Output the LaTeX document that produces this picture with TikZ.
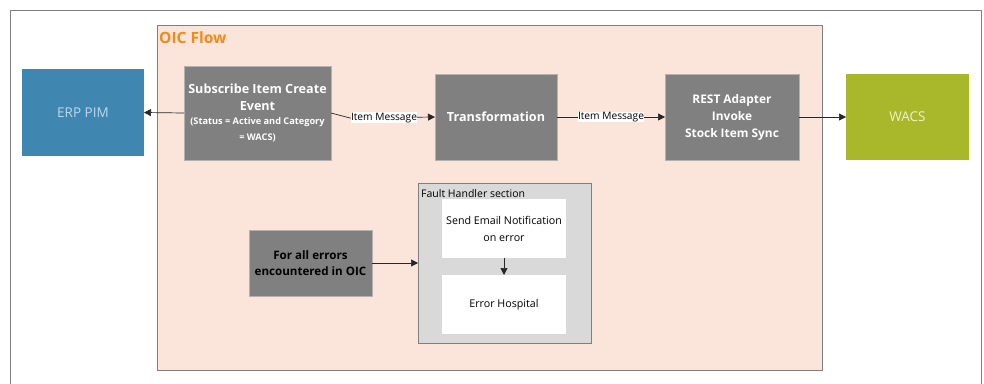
\documentclass[tikz,border=0pt]{standalone}
\usepackage{fontspec}
\setmainfont{Open Sans}
\usetikzlibrary{arrows.meta,positioning}
\definecolor{oicfill}{HTML}{FBE4D9}
\definecolor{framegray}{HTML}{7F7F7F}
\definecolor{boxgray}{HTML}{808080}
\definecolor{faultfill}{HTML}{D9D9D9}
\definecolor{erpblue}{HTML}{3F87B1}
\definecolor{erptext}{HTML}{BCD8EA}
\definecolor{wacsgreen}{HTML}{A9B82A}
\definecolor{wacstext}{HTML}{EEF2C8}
\definecolor{oicorange}{HTML}{F28A1A}
\tikzset{
  base/.style={inner sep=0pt, outer sep=0pt, align=center},
  graybox/.style={base, fill=boxgray, draw=black!30, line width=0.6pt, text=white, font=\bfseries\fontsize{12.6}{16.5}\selectfont},
  sysbox/.style={base, font=\fontsize{13.5}{15}\selectfont},
  whitebox/.style={base, fill=white, font=\fontsize{10.7}{17}\selectfont},
  conn/.style={draw=black!85, line width=0.7pt, -{Triangle[length=7pt,width=7pt]}},
  lbl/.style={fill=white, inner sep=0.5pt, font=\fontsize{10.2}{11}\selectfont}
}
\begin{document}
\begin{tikzpicture}[x=1pt,y=-1pt]
\useasboundingbox (0,0) rectangle (984,383);
\fill[white] (0,0) rectangle (984,383);
\draw[framegray, line width=0.8pt] (10,395) -- (10,10) -- (981,10) -- (981,395);
\node[base, fill=oicfill, draw=framegray, line width=0.8pt, minimum width=665pt, minimum height=345pt] (oic) at (489.5,197.5) {};
\node[anchor=west, inner sep=0pt, text=oicorange, font=\bfseries\fontsize{15.5}{17}\selectfont] (oiclbl) at (159,38) {OIC Flow};
\node[sysbox, fill=erpblue, text=erptext, minimum width=122pt, minimum height=87pt] (erp) at (83,112.5) {ERP PIM};
\node[sysbox, fill=wacsgreen, text=wacstext, minimum width=123pt, minimum height=86pt] (wacs) at (907.5,117) {WACS};
\node[graybox, minimum width=147pt, minimum height=94pt] (sub) at (257.5,113) {Subscribe Item Create\\Event\\[-2pt]{\fontsize{9.2}{16}\selectfont (Status = Active and Category}\\[-1pt]{\fontsize{9.2}{12}\selectfont = WACS)}};
\node[graybox, minimum width=122pt, minimum height=86pt] (trans) at (496,117) {Transformation};
\node[graybox, minimum width=134pt, minimum height=86pt, font=\bfseries\fontsize{11.9}{17}\selectfont] (rest) at (732,117) {REST Adapter\\Invoke\\Stock Item Sync};
\node[graybox, text=black, minimum width=123pt, minimum height=66pt, font=\bfseries\fontsize{11.6}{16}\selectfont] (err) at (310.5,263) {For all errors\\encountered in OIC};
\node[base, fill=faultfill, draw=framegray, line width=0.8pt, minimum width=173pt, minimum height=160pt] (fault) at (504.5,263) {};
\node[anchor=west, inner sep=0pt, font=\fontsize{10.5}{12}\selectfont] (faultlbl) at (421,194) {Fault Handler section};
\node[whitebox, minimum width=124pt, minimum height=59pt] (mail) at (504,228.5) {Send Email Notification\\on error};
\node[whitebox, minimum width=124pt, minimum height=59pt] (hosp) at (504,304.5) {Error Hospital};
\coordinate (bend) at (350,118);
\draw[conn] (sub.west) -- (erp.east);
\draw[conn] (sub.east) -- (bend) -- (trans.west) node[lbl, pos=0.4] {Item Message};
\draw[conn] (trans.east) -- node[lbl, pos=0.5] {Item Message} (rest.west);
\draw[conn] (rest.east) -- (wacs.west);
\draw[conn] (err.east) -- (fault.west);
\draw[conn] (mail.south) -- (hosp.north);
\end{tikzpicture}
\end{document}
